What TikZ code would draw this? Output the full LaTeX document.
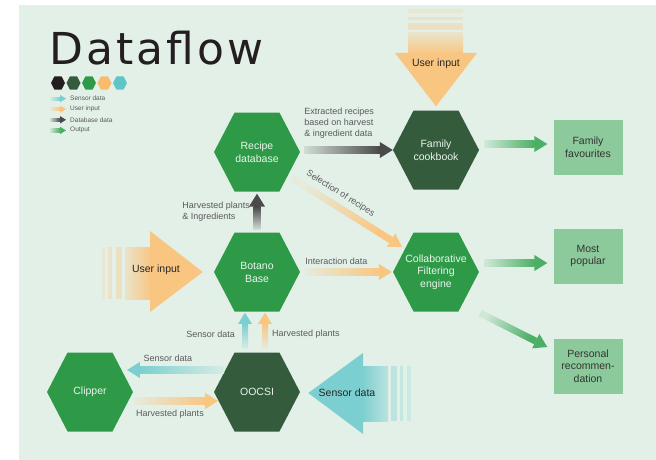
\documentclass[tikz,border=0pt]{standalone}
\usepackage{fontspec}
\setmainfont{Liberation Sans}
\newfontfamily\titlefont[LetterSpace=7]{DejaVu Sans}
\usetikzlibrary{calc,shapes.symbols,shapes.geometric}

\definecolor{panel}{HTML}{E3F0E8}
\definecolor{hexgreen}{HTML}{2E9A48}
\definecolor{hexdark}{HTML}{335B3C}
\definecolor{boxgreen}{HTML}{8DCA9B}
\definecolor{userorange}{HTML}{F9C682}
\definecolor{sensorcyan}{HTML}{7CCFD0}
\definecolor{dbgray}{HTML}{4A4A4A}
\definecolor{outgreen}{HTML}{4CAF65}
\definecolor{labelgray}{HTML}{5A5A5A}
\definecolor{titleblack}{HTML}{231F20}
\definecolor{legorange}{HTML}{F9BC6E}
\definecolor{legcyan}{HTML}{5EC5C8}

\tikzset{
  hexa/.style={shape=signal, signal to=east and west, signal pointer angle=125,
    minimum width=86pt, minimum height=79pt, inner sep=0pt, align=center,
    fill=hexgreen, text=white!90!hexgreen, font=\fontsize{10.5}{13}\selectfont},
  hextxt/.style={align=center, inner sep=0pt, text=white!90!hexgreen,
    font=\fontsize{10.5}{12.7}\selectfont},
  legendhex/.style={shape=signal, signal to=east and west, signal pointer angle=125,
    minimum width=14pt, minimum height=13pt, inner sep=0pt},
  outbox/.style={rectangle, fill=boxgreen, minimum width=69pt, minimum height=55pt,
    inner sep=1pt, align=center, text=black!80, font=\fontsize{10.5}{12.7}\selectfont},
  lbl/.style={font=\fontsize{9}{11}\selectfont, text=labelgray, inner sep=1pt},
  legendtxt/.style={font=\fontsize{6.5}{7}\selectfont, text=labelgray, inner sep=0pt},
  bigtxt/.style={font=\fontsize{10.5}{12}\selectfont, text=black!85, inner sep=0pt}
}

% block arrow with a fading shaft: [shaft half width]{start}{end}{colour}
\newcommand{\flowarrow}[4][3.5]{%
  \coordinate (fa-s) at (#2);
  \coordinate (fa-e) at (#3);
  \pgfmathanglebetweenpoints{\pgfpointanchor{fa-s}{center}}{\pgfpointanchor{fa-e}{center}}%
  \let\faang\pgfmathresult
  \pgfmathsetmacro\faangle{\faang-90}%
  \pgfmathsetmacro\fahead{2.3*#1}%
  \pgfmathsetmacro\falength{3.7*#1}%
  \coordinate (fa-b) at ($(fa-e)!\falength pt!(fa-s)$);
  \shade[shading=axis, top color=#4, bottom color=#4!12!panel, shading angle=\faangle]
    ($(fa-s)!#1pt!90:(fa-e)$) -- ($(fa-s)!#1pt!-90:(fa-e)$)
    -- ($(fa-b)!#1pt!90:(fa-s)$) -- ($(fa-b)!#1pt!-90:(fa-s)$) -- cycle;
  \fill[#4] ($(fa-b)!\fahead pt!90:(fa-s)$) -- (fa-e) -- ($(fa-b)!\fahead pt!-90:(fa-s)$) -- cycle;
}

\begin{document}
\begin{tikzpicture}[x=1pt,y=-1pt]
\useasboundingbox (0,0) rectangle (656,460);
\fill[white] (0,0) rectangle (656,460);
\fill[panel] (19,5) rectangle (656,460);

% title and legend
\node[anchor=base west, inner sep=0pt, text=titleblack] (title) at (49,64) {\titlefont\fontsize{44}{44}\selectfont Dataflow};
\foreach \c [count=\i] in {titleblack,hexdark,hexgreen,legorange,legcyan}
  \node[legendhex, fill=\c] (leg\i) at (42.5+15.5*\i,83) {};
\foreach \c/\t [count=\i] in {sensorcyan/Sensor data,userorange/User input,dbgray/Database data,outgreen/Output}{
  \flowarrow[1.6]{50,88+10.6*\i}{66,88+10.6*\i}{\c}
  \node[legendtxt, anchor=west] (legtxt\i) at (70,88+10.6*\i) {\t};
}

% hexagons and outputs
\node[hexa] (recipe) at (257,152) {Recipe\\database};
\node[hexa, fill=hexdark] (cookbook) at (436,150) {Family\\cookbook};
\node[hexa] (botano) at (257,272) {Botano\\Base};
\node[hexa] (engine) at (436,272) {};
\node[hextxt] (enginetxt) at (engine.center) {Collaborative\\Filtering\\engine};
\node[hexa] (clipper) at (90,392) {Clipper};
\node[hexa, fill=hexdark] (oocsi) at (257,392) {OOCSI};
\node[outbox] (favourites) at (588,147) {Family\\favourites};
\node[outbox] (popular) at (588,256) {Most\\popular};
\node[outbox] (personal) at (588,366) {Personal\\recommen-\\dation};

% big input arrows
\fill[userorange!22!panel] (408,9) rectangle (463,13);
\fill[userorange!30!panel] (408,17) rectangle (463,20);
\fill[userorange!38!panel] (408,23) rectangle (463,30);
\shade[top color=userorange!30!panel, bottom color=userorange] (408,33) rectangle (463,54);
\fill[userorange] (395,53) -- (477,53) -- ($(cookbook.north)+(0,-4)$) -- cycle;
\node[bigtxt] (topinput) at (436,64) {User input};

\fill[userorange!22!panel] (102,247) rectangle (105,299);
\fill[userorange!30!panel] (108,247) rectangle (112,299);
\fill[userorange!38!panel] (116,247) rectangle (122,299);
\shade[left color=userorange!30!panel, right color=userorange] (125,247) rectangle (151,299);
\fill[userorange] (150,231) -- (150,312) -- ($(botano.west)+(-11,0)$) -- cycle;
\node[bigtxt] (leftinput) at (156,270) {User input};

\fill[sensorcyan!38!panel] (391,366) rectangle (397,421);
\fill[sensorcyan!30!panel] (400,366) rectangle (403,421);
\fill[sensorcyan!22!panel] (407,366) rectangle (411,421);
\shade[left color=sensorcyan, right color=sensorcyan!40!panel] (362,366) rectangle (388,421);
\fill[sensorcyan] (363,353) -- (363,434) -- ($(oocsi.east)+(8,1)$) -- cycle;
\node[bigtxt] (sensorinput) at (347,393) {Sensor data};

% connectors
\flowarrow{$(recipe.east)+(4,-2)$}{cookbook.west}{dbgray}
\flowarrow{$(cookbook.east)+(5,-6)$}{$(favourites.west)+(-6,-3)$}{outgreen}
\flowarrow{$(engine.east)+(5,-9)$}{$(popular.west)+(-6,7)$}{outgreen}
\flowarrow{$(engine.center)+(44,41)$}{$(personal.west)+(-6,-19)$}{outgreen}
\flowarrow{$(botano.east)+(5,0)$}{$(engine.west)+(-1,0)$}{userorange}
\flowarrow{$(recipe.center)+(35,26)$}{$(engine.center)+(-34,-25)$}{userorange}
\flowarrow{$(botano.north)+(0,-3)$}{$(recipe.south)+(0,2)$}{dbgray}
\flowarrow[3]{$(oocsi.north)+(-12,-4)$}{$(botano.south)+(-12,1)$}{sensorcyan}
\flowarrow[3]{$(oocsi.north)+(8,-4)$}{$(botano.south)+(8,1)$}{userorange}
\flowarrow{$(oocsi.center)+(-33,-22)$}{$(clipper.center)+(37,-22)$}{sensorcyan}
\flowarrow{$(clipper.center)+(44,9)$}{$(oocsi.center)+(-39,9)$}{userorange}

% labels
\node[lbl, anchor=south west, align=left] (extractedlbl) at ($(recipe.east)+(3,-12)$) {Extracted recipes\\based on harvest\\\& ingredient data};
\path ($(recipe.center)+(35,26)$) -- ($(engine.center)+(-34,-25)$)
  node[lbl, pos=0.38, sloped, above=7pt] (selectionlbl) {Selection of recipes};
\node[lbl, anchor=south west] (interactionlbl) at ($(botano.east)+(4,-6)$) {Interaction data};
\node[lbl, anchor=east, align=left] (ingredientslbl) at ($(recipe.south)+(-6,20)$) {Harvested plants\\\& Ingredients};
\node[lbl, anchor=east] (sensorup) at ($(oocsi.north)+(-21,-18)$) {Sensor data};
\node[lbl, anchor=west] (harvestup) at ($(oocsi.north)+(14,-18)$) {Harvested plants};
\node[lbl] (sensorleft) at ($(oocsi.center)+(-89,-34)$) {Sensor data};
\node[lbl] (harvestright) at ($(oocsi.center)+(-87,22)$) {Harvested plants};
\end{tikzpicture}
\end{document}
